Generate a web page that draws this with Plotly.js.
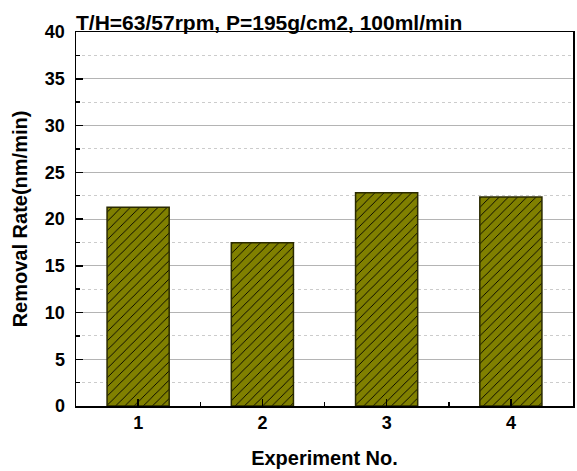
<!DOCTYPE html>
<html><head><meta charset="utf-8">
<script src="https://cdn.plot.ly/plotly-3.0.1.min.js"></script>
<style>html,body{margin:0;padding:0;background:#fff}</style>
</head><body>
<div id="chart" style="width:577px;height:471px"></div>
<script>
const experiments = [1, 2, 3, 4];
const removalRate = [21.25, 17.45, 22.8, 22.35];
const titleText = "T/H=63/57rpm, P=195g/cm2, 100ml/min";

const font = {family: "Liberation Sans, Arial, sans-serif", color: "#000"};

Plotly.newPlot("chart", [{
  type: "bar",
  x: experiments,
  y: removalRate,
  width: 0.5,
  marker: {
    color: "#808000",
    line: {color: "#2a2a00", width: 1.5},
    pattern: {shape: "/", fgcolor: "#000", bgcolor: "#808000", size: 6.5, solidity: 0.14}
  },
  hoverinfo: "skip"
}], {
  width: 577, height: 471,
  margin: {l: 76, r: 4, t: 32, b: 65},
  paper_bgcolor: "#fff", plot_bgcolor: "#fff",
  showlegend: false,
  font: font,
  title: {
    text: "<b>" + titleText + "</b>",
    font: {family: font.family, size: 21, color: "#000"},
    x: 0, xref: "paper", xanchor: "left",
    y: 1, yref: "paper", yanchor: "bottom", pad: {b: 2}
  },
  xaxis: {
    range: [0.5, 4.5],
    tickvals: experiments,
    ticktext: experiments.map(v => "<b>" + v + "</b>"),
    tickfont: {family: font.family, size: 18, color: "#000"},
    ticks: "inside", ticklen: 7, tickwidth: 1.5, tickcolor: "#000",
    showline: true, linecolor: "#000", linewidth: 1.5, mirror: true,
    showgrid: false, zeroline: false,
    minor: {tickvals: [1.5, 2.5, 3.5], ticks: "inside", ticklen: 4, tickcolor: "#000", showgrid: false},
    title: {text: "<b>Experiment No.</b>", font: {family: font.family, size: 20, color: "#000"}, standoff: 19}
  },
  yaxis: {
    range: [0, 40],
    dtick: 5,
    tickprefix: "<b>", ticksuffix: "</b>",
    tickfont: {family: font.family, size: 18, color: "#000"},
    ticklabelstandoff: 6,
    ticks: "inside", ticklen: 7, tickwidth: 1.5, tickcolor: "#000",
    showline: true, linecolor: "#000", linewidth: 1.5, mirror: true,
    showgrid: true, gridcolor: "#b4b4b4", gridwidth: 1,
    zeroline: false,
    minor: {dtick: 2.5, ticks: "inside", ticklen: 4, tickcolor: "#000", showgrid: true, gridcolor: "#cccccc", griddash: "dot", gridwidth: 1},
    title: {text: "<b>Removal Rate(nm/min)</b>", font: {family: font.family, size: 20, color: "#000"}, standoff: 12}
  }
}, {displayModeBar: false, staticPlot: true});
</script>
</body></html>
